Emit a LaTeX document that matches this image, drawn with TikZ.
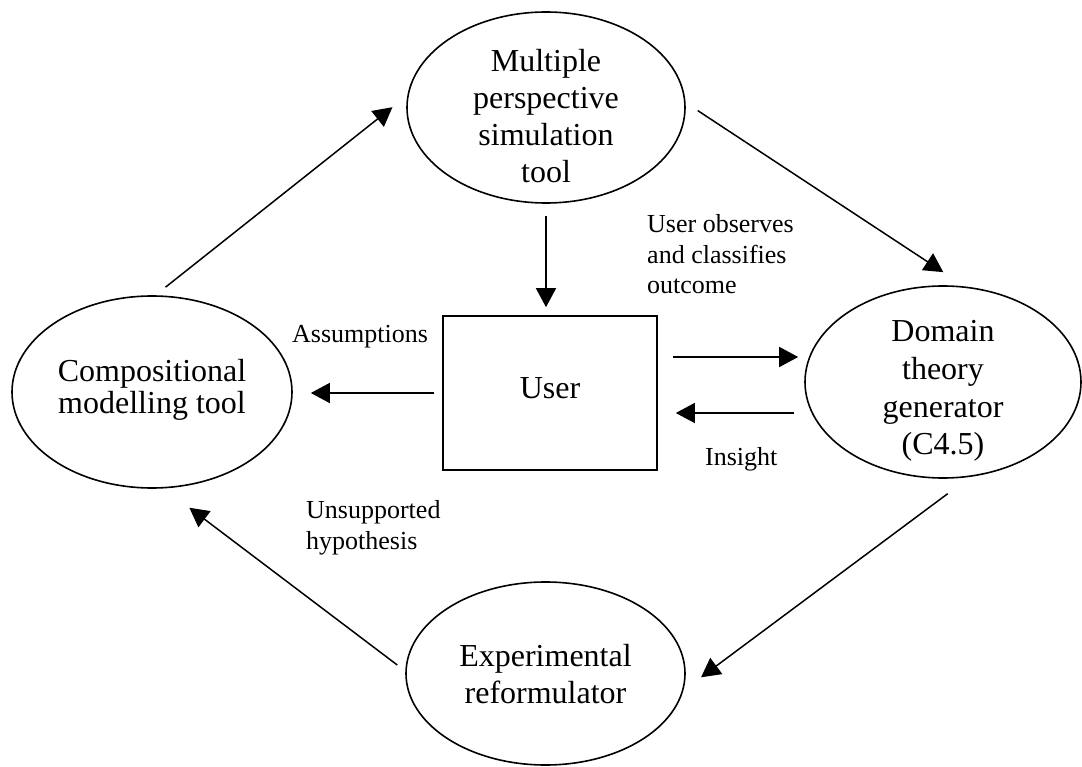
\documentclass[tikz,border=0pt]{standalone}
\usepackage{fontspec}
\setmainfont{Liberation Serif}
\usetikzlibrary{shapes.geometric,arrows.meta}
\begin{document}
\begin{tikzpicture}[x=1pt,y=-1pt,
  ell/.style={draw, ellipse, line width=1.6pt, inner sep=0pt},
  boxnode/.style={draw, rectangle, line width=1.6pt, inner sep=0pt},
  bigtext/.style={font=\fontsize{32}{37}\selectfont, align=center, inner sep=0pt},
  smalltext/.style={font=\fontsize{26}{30.5}\selectfont, align=left, inner sep=0pt, anchor=base west},
  arr/.style={line width=1.5pt, -{Triangle[length=19pt,width=20pt]}}
]
\useasboundingbox (0,0) rectangle (1082,767);

% main nodes
\node[ell, minimum width=278pt, minimum height=191pt,
  label={[bigtext, yshift=-9pt]center:{Multiple\\perspective\\simulation\\tool}}] (multi) at (546,107.5) {};
\node[ell, minimum width=280pt, minimum height=192pt,
  label={[bigtext, font=\fontsize{32}{32}\selectfont, yshift=2pt]center:{Compositional\\modelling tool}}] (comp) at (152,392) {};
\node[ell, minimum width=276pt, minimum height=192pt,
  label={[bigtext, font=\fontsize{32}{37.7}\selectfont, yshift=-9pt]center:{Domain\\theory\\generator\\(C4.5)}}] (domain) at (943,382) {};
\node[ell, minimum width=279pt, minimum height=183pt,
  label={[bigtext, yshift=-1pt]center:{Experimental\\reformulator}}] (exp) at (545.5,673.5) {};
\node[boxnode, minimum width=214pt, minimum height=154pt,
  label={[bigtext, yshift=5pt]center:{User}}] (user) at (550,393) {};

% connectors
\draw[arr, shorten <=13pt, shorten >=19pt] (comp.88) -- (multi.175);
\draw[arr, shorten <=14.5pt, shorten >=26pt] (multi.2) -- (domain.77);
\draw[arr, shorten <=12pt, shorten >=8pt] (multi.south) -- (multi.south |- user.north);
\draw[arr, shorten <=15pt, shorten >=6pt] ([yshift=36pt]user.east) -- ([yshift=36pt]user.east -| domain.west);
\draw[arr, shorten <=10pt, shorten >=18pt] ([yshift=-20pt]user.east -| domain.west) -- ([yshift=-20pt]user.east);
\draw[arr, shorten <=8pt, shorten >=18pt] (user.west) -- (user.west -| comp.east);
\draw[arr, shorten <=28pt, shorten >=22pt] (domain.-74) -- (exp.-7);
\draw[arr, shorten <=10pt, shorten >=32pt] (exp.179) -- (comp.-83);

% edge labels (anchor = baseline of last line)
\node[smalltext] (obs) at (647,294) {User observes\\and classifies\\outcome};
\node[smalltext] (assum) at (292,343) {Assumptions};
\node[smalltext] (ins) at (705,465) {Insight};
\node[smalltext] (unsup) at (306,549) {Unsupported\\hypothesis};
\end{tikzpicture}
\end{document}
